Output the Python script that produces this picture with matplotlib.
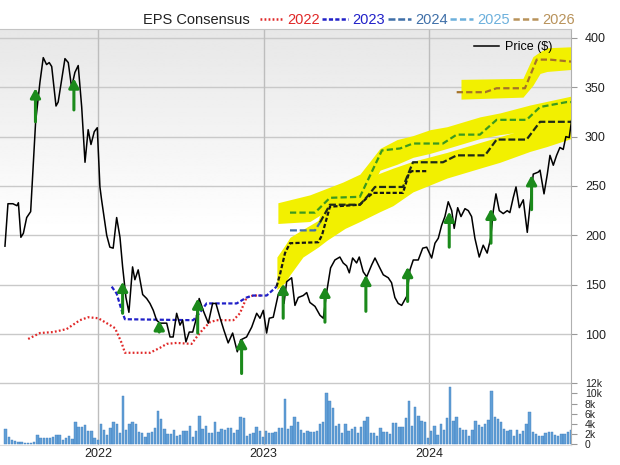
import matplotlib
matplotlib.use("Agg")
import matplotlib.pyplot as plt
import numpy as np
from matplotlib.lines import Line2D

plt.rcParams["font.family"] = ["Liberation Sans", "DejaVu Sans"]
plt.rcParams["lines.scale_dashes"] = False

# ---- data (x values are decimal years) ----
price_year = [
    2021.439, 2021.457, 2021.487, 2021.511, 2021.520, 2021.535, 2021.550, 2021.570, 2021.594, 2021.603,
    2021.624, 2021.650, 2021.670, 2021.690, 2021.706, 2021.721, 2021.747, 2021.760, 2021.801, 2021.821,
    2021.841, 2021.861, 2021.881, 2021.902, 2021.922, 2021.941, 2021.958, 2021.978, 2021.996, 2022.012,
    2022.022, 2022.053, 2022.072, 2022.092, 2022.113, 2022.133, 2022.149, 2022.169, 2022.187, 2022.209,
    2022.223, 2022.243, 2022.270, 2022.294, 2022.314, 2022.334, 2022.354, 2022.374, 2022.415, 2022.435,
    2022.454, 2022.475, 2022.495, 2022.511, 2022.531, 2022.551, 2022.572, 2022.591, 2022.611, 2022.635,
    2022.666, 2022.692, 2022.712, 2022.736, 2022.760, 2022.786, 2022.813, 2022.841, 2022.861, 2022.897,
    2022.928, 2022.958, 2022.978, 2022.998, 2023.018, 2023.034, 2023.058, 2023.088, 2023.109, 2023.123,
    2023.139, 2023.169, 2023.189, 2023.209, 2023.239, 2023.260, 2023.279, 2023.310, 2023.340, 2023.360,
    2023.380, 2023.404, 2023.430, 2023.460, 2023.480, 2023.501, 2023.517, 2023.537, 2023.561, 2023.577,
    2023.601, 2023.622, 2023.652, 2023.672, 2023.698, 2023.722, 2023.752, 2023.772, 2023.792, 2023.812,
    2023.833, 2023.863, 2023.883, 2023.903, 2023.933, 2023.960, 2023.984, 2024.014, 2024.034, 2024.054,
    2024.074, 2024.094, 2024.114, 2024.135, 2024.150, 2024.171, 2024.191, 2024.215, 2024.235, 2024.255,
    2024.275, 2024.301, 2024.325, 2024.349, 2024.370, 2024.386, 2024.402, 2024.422, 2024.446, 2024.470,
    2024.486, 2024.506, 2024.523, 2024.543, 2024.567, 2024.591, 2024.611, 2024.627, 2024.657, 2024.668,
    2024.692, 2024.712, 2024.728, 2024.748, 2024.768, 2024.788, 2024.808, 2024.824, 2024.844, 2024.859,
]
price_value = [
    189, 232, 232, 230, 233, 198, 202, 218, 224, 251,
    315, 355, 380, 373, 375, 371, 331, 335, 379, 375,
    350, 365, 372, 330, 274, 307, 292, 305, 309, 249,
    236, 200, 188, 187, 218, 198, 168, 137, 122, 168,
    155, 165, 140, 136, 131, 124, 114, 111, 111, 97,
    97, 121, 109, 114, 92, 102, 102, 114, 136, 124,
    111, 131, 131, 117, 104, 91, 101, 82, 94, 97,
    107, 121, 116, 124, 101, 116, 117, 140, 147, 131,
    153, 157, 129, 137, 139, 142, 132, 128, 119, 116,
    142, 167, 175, 178, 172, 169, 162, 177, 172, 178,
    163, 158, 170, 177, 168, 160, 157, 152, 137, 131,
    129, 138, 165, 175, 175, 187, 188, 177, 192, 197,
    210, 219, 234, 225, 207, 228, 219, 227, 225, 219,
    197, 178, 190, 182, 197, 225, 242, 225, 222, 225,
    223, 238, 249, 228, 236, 203, 236, 262, 264, 266,
    242, 262, 281, 271, 281, 289, 287, 300, 299, 317,
]

eps2022_year = [2021.579, 2021.650, 2021.730, 2021.811, 2021.891, 2021.941, 2022.002, 2022.053, 2022.103,
                2022.143, 2022.163, 2022.314, 2022.374, 2022.415, 2022.475, 2022.565, 2022.596, 2022.635,
                2022.676, 2022.716, 2022.817, 2022.857, 2022.897, 2022.937, 2022.990]
eps2022_value = [95, 101, 102, 105, 114, 117, 116, 111, 106, 91, 81, 81, 86, 90, 91, 90, 97, 105,
                 112, 114, 114, 121, 137, 139, 139]

eps2023_year = [2022.083, 2022.113, 2022.143, 2022.163, 2022.575, 2022.616, 2022.656, 2022.837, 2022.897,
                2022.937, 2023.018, 2023.078, 2023.098, 2023.129, 2023.159, 2023.330, 2023.352, 2023.400,
                2023.581, 2023.617, 2023.660, 2023.841, 2023.877, 2023.895, 2023.992]
eps2023_value = [148, 141, 124, 115, 114, 122, 131, 131, 137, 139, 139, 148, 160, 182, 192, 193, 200, 229,
                 231, 237, 243, 243, 263, 265, 265]

eps2024_year = [2023.159, 2023.310, 2023.340, 2023.400, 2023.581, 2023.629, 2023.672, 2023.841, 2023.901,
                2024.082, 2024.165, 2024.336, 2024.406, 2024.587, 2024.668, 2024.855]
eps2024_value = [205, 205, 213, 231, 231, 240, 249, 249, 274, 274, 281, 281, 297, 297, 315, 315]

eps2025_year = [2023.159, 2023.310, 2023.400, 2023.581, 2023.714, 2023.823, 2023.901, 2024.082, 2024.165,
                2024.305, 2024.406, 2024.587, 2024.668, 2024.829, 2024.855]
eps2025_value = [223, 223, 238, 239, 286, 288, 293, 293, 302, 302, 317, 317, 330, 335, 335]

eps2026_year = [2024.165, 2024.336, 2024.406, 2024.577, 2024.648, 2024.728, 2024.855]
eps2026_value = [345, 345, 349, 349, 378, 378, 376]

# highlighted estimate ranges (low / high)
band_lower_year = [2023.080, 2023.129, 2023.159, 2023.237, 2023.328, 2023.382, 2023.491, 2023.581, 2023.702,
                   2023.780, 2023.901, 2024.106, 2024.305, 2024.426, 2024.607, 2024.710, 2024.855]
band_lower_low = [145, 152, 160, 178, 188, 195, 207, 214, 224, 230, 244, 258, 268, 274, 285, 290, 298]
band_lower_high = [178, 190, 198, 206, 215, 240, 248, 255, 263, 268, 275, 284, 294, 300, 309, 318, 322]

band_upper_year = [2023.086, 2023.279, 2023.479, 2023.581, 2023.642, 2023.702, 2023.805, 2023.901, 2024.004,
                   2024.106, 2024.305, 2024.426, 2024.607, 2024.855]
band_upper_low = [212, 214, 235, 236, 245, 266, 272, 279, 283, 288, 298, 302, 306, 314]
band_upper_high = [233, 241, 254, 262, 275, 288, 297, 301, 307, 310, 320, 324, 332, 341]

band_2026_year = [2024.191, 2024.565, 2024.625, 2024.668, 2024.710, 2024.855]
band_2026_low = [338, 340, 352, 364, 366, 368]
band_2026_high = [358, 359, 381, 386, 390, 391]

# earnings surprise arrows (from, to)
arrow_year = [2021.623, 2021.855, 2022.149, 2022.370, 2022.602, 2022.867, 2023.118, 2023.370,
              2023.617, 2023.869, 2024.120, 2024.372, 2024.617]
arrow_from = [315, 327, 121, 102, 101, 60, 116, 112, 123, 133, 188, 192, 226]
arrow_to = [349, 359, 153, 114, 136, 96, 151, 148, 160, 168, 224, 227, 261]

volume_start = 2021.443
volume_k = [
    2.9, 1.3, 0.7, 0.5, 0.4, 0.3, 0.2, 0.2, 0.2, 0.3,
    1.8, 1.2, 1.2, 1.2, 1.2, 1.3, 1.7, 1.7, 0.8, 1.2,
    1.6, 1.0, 4.3, 3.3, 3.3, 3.8, 2.6, 2.5, 1.2, 0.8,
    3.9, 2.7, 1.7, 3.1, 4.3, 3.9, 2.1, 9.4, 2.7, 3.9,
    4.3, 3.9, 2.3, 2.1, 1.3, 2.1, 2.3, 3.2, 6.6, 4.9,
    2.9, 1.9, 1.9, 2.7, 1.5, 1.7, 2.5, 2.5, 3.5, 1.3,
    2.5, 5.5, 2.9, 3.5, 2.1, 2.1, 4.3, 2.4, 2.9, 2.7,
    3.2, 3.2, 2.1, 2.7, 5.4, 5.1, 1.5, 1.9, 2.1, 3.3,
    2.5, 1.3, 2.5, 2.1, 2.1, 2.4, 3.1, 3.1, 8.9, 2.9,
    3.5, 5.3, 4.3, 2.8, 2.2, 2.5, 2.4, 2.4, 2.5,
    3.9, 4.3, 10.1, 8.5, 7.1, 3.6, 3.9, 2.1, 3.9, 2.6,
    2.9, 3.3, 2.1, 3.3, 4.6, 5.3, 2.2, 2.2, 1.6, 3.2,
    2.4, 2.4, 1.9, 4.1, 4.1, 3.4, 3.4, 5.1, 8.5, 3.6,
    7.3, 5.5, 4.6, 4.4, 1.1, 2.6, 3.5, 1.8, 3.9,
    2.7, 5.1, 11.3, 4.5, 5.3, 3.1, 2.7, 2.7, 1.6, 2.8,
    4.5, 3.8, 3.4, 3.9, 4.7, 10.5, 5.3, 4.9, 4.4, 2.9,
    2.6, 2.7, 1.6, 2.7, 1.9, 2.6, 3.9, 6.3, 2.4, 1.9,
    1.5, 1.5, 2.1, 2.4, 2.3, 1.8, 1.5, 2.0, 1.9, 2.3, 2.8,
]

year_ticks = [2022, 2023, 2024]
price_ticks = [100, 150, 200, 250, 300, 350, 400]
volume_ticks = [0, 2, 4, 6, 8, 10, 12]

legend_years = ["2022", "2023", "2024", "2025", "2026"]
legend_colors = ["#e02828", "#2020c8", "#3f6fa8", "#6cb0dc", "#b8925a"]

YELLOW = "#f2f000"
GRID = "#c9c9c9"
X_RANGE = (2021.409, 2024.855)


def draw_eps(ax, years, values, color, dashes, hl_from=None, hl_color=None):
    years = np.asarray(years)
    values = np.asarray(values)
    cut = len(years) if hl_from is None else int(np.searchsorted(years, hl_from))
    if cut > 0:
        ax.plot(years[:cut + 1], values[:cut + 1], color=color, lw=1.6, dashes=dashes, zorder=4)
    if cut < len(years):
        ax.plot(years[cut:], values[cut:], color=hl_color, lw=1.6, dashes=dashes, zorder=4)


fig = plt.figure(figsize=(6.2, 4.65), dpi=100)
fig.patch.set_facecolor("white")
ax = fig.add_axes([0, 0.1785, 0.921, 0.7591])
axv = fig.add_axes([0, 0.043, 0.921, 0.1355], sharex=ax)

# gradient background for the price panel
grad = np.clip(np.linspace(0.905, 1.07, 256), 0, 1).reshape(-1, 1)
ax.imshow(grad, cmap="gray", vmin=0, vmax=1, aspect="auto", extent=[0, 1, 0, 1],
          transform=ax.transAxes, zorder=0, interpolation="bilinear")

for y in price_ticks:
    ax.axhline(y, color=GRID, lw=1.0, zorder=1)
for x in year_ticks:
    ax.axvline(x, color="#bdbdbd", lw=1.0, zorder=1)
    axv.axvline(x, color="#bdbdbd", lw=1.0, zorder=1)
axv.axhline(12, color=GRID, lw=1.0, zorder=1)

# yellow highlight ranges
ax.fill_between(band_lower_year, band_lower_low, band_lower_high, color=YELLOW, lw=0, zorder=2)
ax.fill_between(band_upper_year, band_upper_low, band_upper_high, color=YELLOW, lw=0, zorder=2)
ax.fill_between(band_2026_year, band_2026_low, band_2026_high, color=YELLOW, lw=0, zorder=2)

# consensus lines
draw_eps(ax, eps2022_year, eps2022_value, legend_colors[0], (1.3, 1.6))
draw_eps(ax, eps2023_year, eps2023_value, legend_colors[1], (3.0, 1.6), 2023.078, "#151515")
draw_eps(ax, eps2024_year, eps2024_value, legend_colors[2], (5.0, 2.0), 2023.330, "#1e2a18")
draw_eps(ax, eps2025_year, eps2025_value, legend_colors[3], (4.5, 2.3), 2023.159, "#3b9a1e")
draw_eps(ax, eps2026_year, eps2026_value, legend_colors[4], (4.5, 2.3), 2024.165, "#a57328")

price_line, = ax.plot(price_year, price_value, color="black", lw=1.1, zorder=5)

for xa, y0, y1 in zip(arrow_year, arrow_from, arrow_to):
    ax.annotate("", xy=(xa, y1), xytext=(xa, y0), zorder=6,
                arrowprops=dict(arrowstyle="-|>,head_length=0.55,head_width=0.3", color="#1b8a1b",
                                lw=2.2, mutation_scale=10, shrinkA=0, shrinkB=0))

ax.set_xlim(*X_RANGE)
ax.set_ylim(51.4, 409)
ax.yaxis.tick_right()
ax.set_yticks(price_ticks)
ax.tick_params(axis="y", length=4, color="#999999", pad=6, labelsize=9, labelcolor="#222222")
ax.tick_params(axis="x", bottom=False, labelbottom=False)
for side in ["left", "bottom"]:
    ax.spines[side].set_visible(False)
ax.spines["top"].set_color("#c4c4c4")
ax.spines["right"].set_color("#b0b0b0")

ax.legend([price_line], ["Price ($)"], loc="upper right", bbox_to_anchor=(0.983, 0.99),
          frameon=False, fontsize=9, handlelength=2.0, handletextpad=0.5, borderpad=0.2)

# volume panel
vol_year = volume_start + np.arange(len(volume_k)) * 7 / 365.25
axv.bar(vol_year, volume_k, width=5.2 / 365.25, color="#629fd6", edgecolor="#3f7fc0",
        linewidth=0.3, zorder=2)
axv.set_ylim(-0.3, 12.3)
axv.set_xlim(*X_RANGE)
axv.yaxis.tick_right()
axv.set_yticks(volume_ticks)
axv.set_yticklabels(["0"] + [f"{v}k" for v in volume_ticks[1:]])
axv.tick_params(axis="y", length=4, color="#999999", pad=6, labelsize=7.5, labelcolor="#222222")
axv.set_xticks(year_ticks)
axv.set_xticklabels([str(y) for y in year_ticks])
axv.tick_params(axis="x", length=0, pad=2, labelsize=9, labelcolor="#222222")
for side in ["left", "top"]:
    axv.spines[side].set_visible(False)
axv.spines["bottom"].set_color("#dddddd")
axv.spines["right"].set_color("#b0b0b0")
axv.set_facecolor("white")

# top legend row
fig.text(143 / 620, 1 - 20 / 465, "EPS Consensus", ha="left", va="center", fontsize=10.5, color="#222222")
sample_x = [(260, 283), (322, 348), (388, 411), (450, 473), (513, 538)]
text_x = [287, 352, 415, 477, 542]
sample_dash = [(1.3, 1.6), (3.0, 1.6), (5.0, 2.0), (4.5, 2.3), (4.5, 2.3)]
for (x0, x1), tx, label, color, dash in zip(sample_x, text_x, legend_years, legend_colors, sample_dash):
    fig.add_artist(Line2D([x0 / 620, x1 / 620], [1 - 19.5 / 465] * 2, color=color, lw=1.8, dashes=dash))
    fig.text(tx / 620, 1 - 20 / 465, label, ha="left", va="center", fontsize=10.5, color=color)

fig.savefig("out.png", dpi=100)
